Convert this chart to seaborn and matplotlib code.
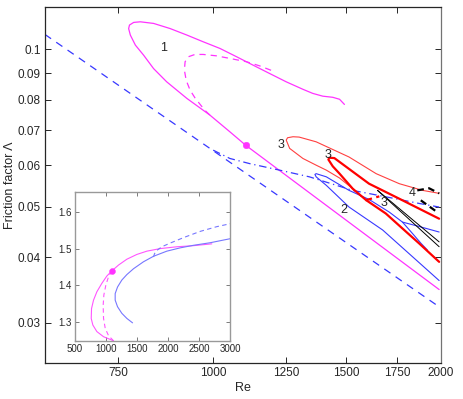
import numpy as np
import pandas as pd
import matplotlib
matplotlib.use("Agg")
import matplotlib.pyplot as plt
import seaborn as sns
from matplotlib.ticker import FixedLocator, NullLocator

# ---- data (Re, friction factor) ----
lam_re = [600, 2000]
lam_f = [0.1067, 0.032]

c1_re = [1492, 1470, 1440, 1397, 1355, 1315, 1250, 1189, 1130, 1075, 1022, 971, 924, 878, 835, 802, 786, 776, 774,
         778, 790, 810, 835, 869, 924, 991, 1053, 1105, 1990]
c1_f = [0.0784, 0.0802, 0.0809, 0.0813, 0.0823, 0.0838, 0.0866, 0.0898, 0.0932, 0.0967, 0.1003, 0.1033, 0.1064,
        0.1095, 0.1120, 0.1128, 0.1125, 0.1112, 0.1095, 0.1064, 0.1018, 0.0974, 0.0918, 0.0866, 0.0805, 0.0748,
        0.0695, 0.0655, 0.0347]
c1d_re = [991, 976, 962, 947, 933, 922, 917, 919, 928, 947, 971, 1011, 1053, 1108, 1153, 1201]
c1d_f = [0.0748, 0.0764, 0.0784, 0.0807, 0.0835, 0.0872, 0.0912, 0.0946, 0.0967, 0.0977, 0.0977, 0.0971, 0.0960,
         0.0946, 0.0929, 0.0908]
dot_re, dot_f = [1105], [0.0655]

dd_re = [1001, 1053, 1119, 1225, 1341, 1529, 1692, 1872, 1990]
dd_f = [0.0641, 0.0618, 0.0604, 0.0587, 0.0570, 0.0537, 0.0522, 0.0507, 0.0499]

c2_re = [1990, 1873, 1780, 1710, 1608, 1513, 1412, 1369, 1364, 1369, 1412, 1513, 1676, 1990]
c2_f = [0.0447, 0.0458, 0.0467, 0.0488, 0.0516, 0.0537, 0.0570, 0.0578, 0.0576, 0.0570, 0.0549, 0.0499, 0.0451, 0.0361]
c2b_re = [1780, 1828, 1884, 1920]
c2b_f = [0.0467, 0.0447, 0.0425, 0.0413]

r3_re = [1990, 1892, 1763, 1643, 1513, 1369, 1300, 1276, 1255, 1250, 1263, 1315, 1369, 1412, 1470, 1530, 1570]
r3_f = [0.0530, 0.0537, 0.0553, 0.0578, 0.0622, 0.0665, 0.0679, 0.0680, 0.0677, 0.0670, 0.0646, 0.0618, 0.0600,
        0.0587, 0.0567, 0.0541, 0.0523]
rt_re = [1990, 1780, 1608, 1447, 1425, 1421, 1440, 1470, 1530, 1595, 1692, 1780, 1873, 1990]
rt_f = [0.0474, 0.0514, 0.0553, 0.0619, 0.0620, 0.0615, 0.0597, 0.0578, 0.0541, 0.0514, 0.0485, 0.0454, 0.0425, 0.0392]
rd_re = [1591, 1659]
rd_f = [0.0514, 0.0523]

k3a_re, k3a_f = [1650, 1990], [0.0537, 0.0428]
k3b_re, k3b_f = [1650, 1990], [0.0537, 0.0419]
k4a_re, k4a_f = [1862, 1930, 1990], [0.0537, 0.0542, 0.0530]
k4b_re, k4b_f = [1882, 1978], [0.0514, 0.0488]

labels = ["1", "3", "3", "3", "2", "4"]
label_re = [862, 1232, 1418, 1683, 1491, 1833]
label_f = [0.1003, 0.0655, 0.0627, 0.0507, 0.0492, 0.0530]

# inset (Re, second quantity)
im_re = [1126, 966, 859, 794, 768, 773, 805, 859, 939, 1019, 1100, 1207, 1341, 1501, 1662, 1876, 2144, 2411, 2706]
im_y = [1.248, 1.259, 1.273, 1.291, 1.309, 1.336, 1.359, 1.382, 1.405, 1.425, 1.439, 1.455, 1.471, 1.484, 1.493,
        1.500, 1.505, 1.508, 1.513]
imd_re = [1100, 1046, 1003, 971, 960, 966, 993, 1046, 1126]
imd_y = [1.439, 1.423, 1.400, 1.373, 1.345, 1.309, 1.282, 1.262, 1.248]
ib_re = [1432, 1341, 1260, 1191, 1153, 1153, 1191, 1260, 1341, 1448, 1608, 1769, 1983, 2197, 2411, 2679, 3000]
ib_y = [1.297, 1.309, 1.323, 1.341, 1.359, 1.377, 1.395, 1.414, 1.429, 1.445, 1.464, 1.479, 1.493, 1.502, 1.509,
        1.516, 1.527]
ibd_re = [1769, 1785, 1822, 1903, 2036, 2251, 2518, 2786, 3000]
ibd_y = [1.477, 1.486, 1.495, 1.505, 1.515, 1.530, 1.547, 1.560, 1.568]

sns.set_style("ticks")
plt.rcParams['font.family'] = ['Liberation Sans', 'DejaVu Sans']

MAG = '#ff33ff'
BLUE = '#3838ff'
RED = '#ff0000'

fig = plt.figure(figsize=(4.63, 3.99), dpi=100)
ax = fig.add_axes([0.097, 0.090, 0.855, 0.892])


def line(a, x, y, **kw):
    sns.lineplot(x=x, y=y, sort=False, estimator=None, ax=a, legend=False, **kw)


line(ax, lam_re, lam_f, color=BLUE, lw=0.9, dashes=(6, 5))
line(ax, c1_re, c1_f, color=MAG, lw=0.9)
line(ax, c1d_re, c1d_f, color=MAG, lw=0.9, dashes=(5, 4))
line(ax, dd_re, dd_f, color=BLUE, lw=0.9, dashes=(6, 3, 1, 3))
line(ax, c2_re, c2_f, color=BLUE, lw=0.8)
line(ax, c2b_re, c2b_f, color=BLUE, lw=0.8)
line(ax, r3_re, r3_f, color='#ff4040', lw=0.8)
line(ax, rt_re, rt_f, color=RED, lw=1.6)
line(ax, rd_re, rd_f, color=RED, lw=1.6, dashes=(3, 2))
line(ax, k3a_re, k3a_f, color='black', lw=0.7)
line(ax, k3b_re, k3b_f, color='black', lw=0.7)
line(ax, k4a_re, k4a_f, color='black', lw=1.6, dashes=(3, 2))
line(ax, k4b_re, k4b_f, color='black', lw=1.6, dashes=(3, 2))
sns.scatterplot(x=dot_re, y=dot_f, color=MAG, s=22, edgecolor=MAG, ax=ax, zorder=5)

for t, xr, yf in zip(labels, label_re, label_f):
    ax.text(xr, yf, t, fontsize=9, ha='center', va='center')

ax.set_xscale('log')
ax.set_yscale('log')
ax.set_xlim(600, 2000)
ax.set_ylim(0.0251, 0.1203)
xt = [750, 1000, 1250, 1500, 1750, 2000]
yt = [0.03, 0.04, 0.05, 0.06, 0.07, 0.08, 0.09, 0.1]
ax.xaxis.set_major_locator(FixedLocator(xt))
ax.xaxis.set_minor_locator(NullLocator())
ax.yaxis.set_major_locator(FixedLocator(yt))
ax.yaxis.set_minor_locator(NullLocator())
ax.set_xticklabels([str(v) for v in xt])
ax.set_yticklabels(['0.03', '0.04', '0.05', '0.06', '0.07', '0.08', '0.09', '0.1'])
ax.tick_params(direction='in', top=True, right=True, length=4, width=0.7, labelsize=8.5, pad=3)
for s in ax.spines.values():
    s.set_visible(True)
    s.set_linewidth(0.9)
ax.spines['right'].set_color('0.45')
ax.set_xlabel('Re', fontsize=9, labelpad=2)
ax.set_ylabel('Friction factor Λ', fontsize=9, labelpad=1)

# inset
ins = fig.add_axes([0.161, 0.146, 0.336, 0.373])
line(ins, im_re, im_y, color='#ff55ff', lw=0.8)
line(ins, imd_re, imd_y, color='#ff55ff', lw=0.8, dashes=(4, 3))
line(ins, ib_re, ib_y, color='#7777ff', lw=0.8)
line(ins, ibd_re, ibd_y, color='#7777ff', lw=0.8, dashes=(4, 3))
sns.scatterplot(x=[1100], y=[1.44], color=MAG, s=18, edgecolor=MAG, ax=ins, zorder=5)
ins.set_xlim(500, 3000)
ins.set_ylim(1.248, 1.655)
ins.set_xticks([500, 1000, 1500, 2000, 2500, 3000])
ins.set_yticks([1.3, 1.4, 1.5, 1.6])
ins.set_xticklabels(['500', '1000', '1500', '2000', '2500', '3000'])
ins.set_yticklabels(['1.3', '1.4', '1.5', '1.6'])
ins.tick_params(direction='in', top=True, right=True, length=3, width=0.6, labelsize=7, pad=2,
                color='0.4')
ins.set_xlabel('')
ins.set_ylabel('')
for s in ins.spines.values():
    s.set_visible(True)
    s.set_color('0.6')
    s.set_linewidth(1.0)

fig.savefig('out.png', dpi=100)
